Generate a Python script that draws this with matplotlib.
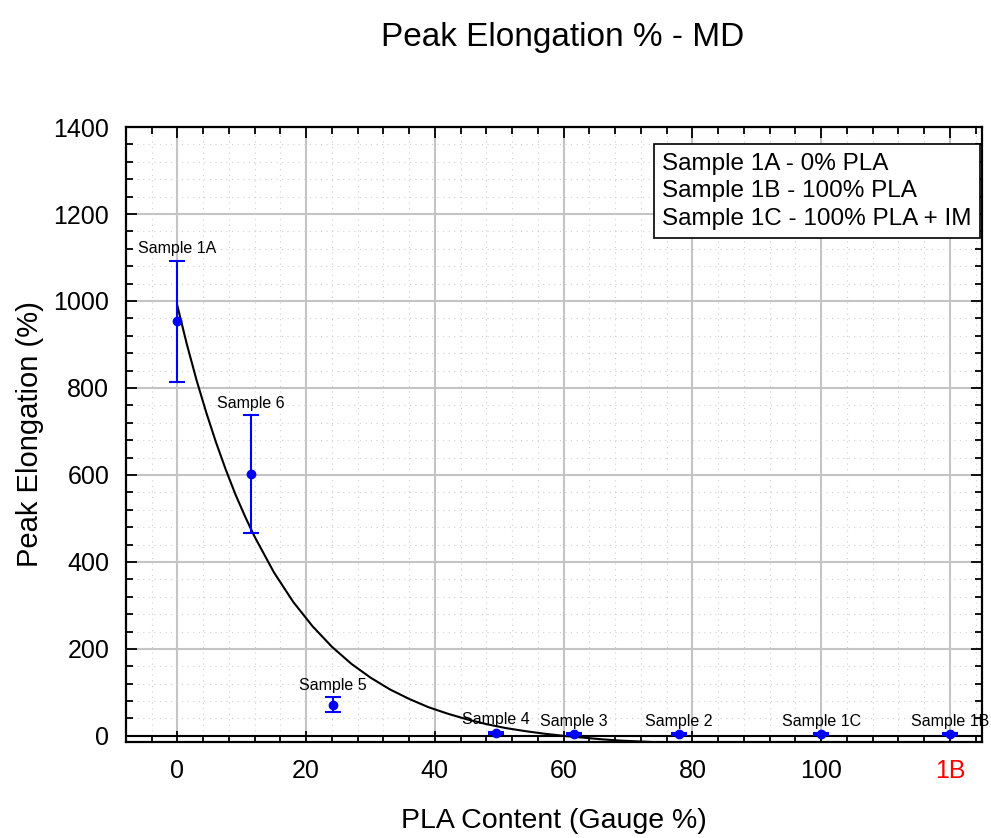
import matplotlib
matplotlib.use("Agg")
import matplotlib.pyplot as plt
from matplotlib.ticker import MultipleLocator, FixedLocator

plt.rcParams['font.family'] = ['Liberation Sans', 'DejaVu Sans']

# samples (x = PLA content, 1B drawn at the "1B" slot)
names = ['Sample 1A', 'Sample 6', 'Sample 5', 'Sample 4', 'Sample 3',
         'Sample 2', 'Sample 1C', 'Sample 1B']
pla = [0, 11.4, 24.1, 49.5, 61.6, 77.9, 100, 120]
elong = [953, 602, 72, 7, 5, 5, 4, 4]
err = [140, 135, 18, 3, 2, 2, 2, 2]

# fitted curve
fit_x = [0, 1.5, 3, 4.5, 6, 7.5, 9, 10.5, 12, 15, 18, 21, 24, 27, 30, 33,
         36, 39, 42, 45, 48, 51, 54, 57, 60, 63, 66, 69, 72, 75]
fit_y = [989, 899, 817, 743, 675, 613, 556, 505, 458, 376, 308, 252, 205,
         166, 134, 107, 85, 66, 51, 38, 27, 18, 11, 5, 0, -4, -8, -11, -13,
         -15]

xticks = [0, 20, 40, 60, 80, 100, 120]
xlabels = ['0', '20', '40', '60', '80', '100', '1B']

legend_text = ("Sample 1A - 0% PLA\n"
               "Sample 1B - 100% PLA\n"
               "Sample 1C - 100% PLA + IM")

fig = plt.figure(figsize=(9.91, 8.38), dpi=100)
ax = fig.add_axes([0.127, 0.1146, 0.864, 0.7338])

ax.set_xlim(-8, 125)
ax.set_ylim(-14, 1400)

# grid
ax.xaxis.set_major_locator(FixedLocator(xticks))
ax.set_xticklabels(xlabels)
ax.xaxis.set_minor_locator(MultipleLocator(4))
ax.yaxis.set_major_locator(MultipleLocator(200))
ax.yaxis.set_minor_locator(MultipleLocator(40))
ax.grid(which='major', color='#c4c4c4', lw=1.5, zorder=0)
ax.grid(which='minor', color='#cfcfcf', lw=0.8, ls=(0, (1, 4)), zorder=0)
ax.set_axisbelow(True)
ax.axhline(0, color='black', lw=1.5, zorder=1)

ax.tick_params(which='both', direction='in', top=True, right=True,
               width=1.3, labelsize=18, pad=12)
ax.tick_params(which='major', length=8)
ax.tick_params(which='minor', length=5)
ax.get_xticklabels()[-1].set_color('red')
for s in ax.spines.values():
    s.set_linewidth(1.6)

# curve
ax.plot(fit_x, fit_y, color='black', lw=1.5, zorder=2)

# points with error bars
ax.errorbar(pla, elong, yerr=err, fmt='o', color='blue', ms=6,
            elinewidth=1.5, capsize=6, capthick=1.5, zorder=3)

for n, x, y, e in zip(names, pla, elong, err):
    ax.annotate(n, (x, y + e), xytext=(0, 3), textcoords='offset points',
                ha='center', va='bottom', fontsize=11.5)

ax.text(0.988, 0.958, legend_text, transform=ax.transAxes, ha='right',
        va='top', multialignment='left', fontsize=17.5, linespacing=1.32,
        bbox=dict(boxstyle='square,pad=0.35', fc='white', ec='black', lw=1.2),
        zorder=5)

ax.set_xlabel('PLA Content (Gauge %)', fontsize=20.5, labelpad=18)
ax.set_ylabel('Peak Elongation (%)', fontsize=21, labelpad=7)
fig.text(0.568, 0.955, 'Peak Elongation % - MD', ha='center', va='center',
         fontsize=24)

fig.savefig('out.png', dpi=100)
